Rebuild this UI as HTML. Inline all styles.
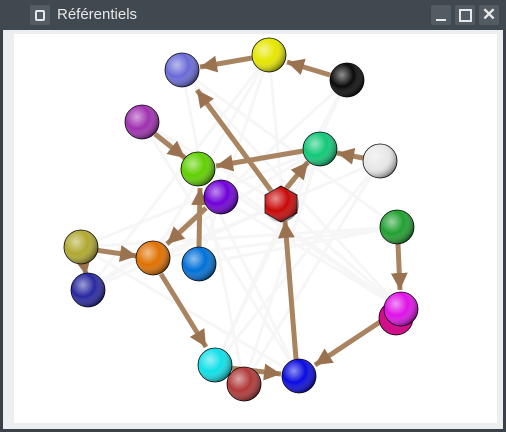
<!DOCTYPE html>
<html><head><meta charset="utf-8"><style>
html,body{margin:0;padding:0;width:506px;height:432px;overflow:hidden;background:#3a4148}
#t{position:absolute;left:0;top:0;width:506px;height:30px;background:#414950}
#title{position:absolute;left:57px;top:6px;font:15px "Liberation Sans",sans-serif;color:#e6e8ea}
.b{position:absolute;top:5px;width:20px;height:20px;background:#535b63;border-radius:2px}
#frame{position:absolute;left:3px;top:30px;width:500px;height:399px;background:#eceef0}
#in{position:absolute;left:14px;top:34px;width:483px;height:389px;background:#fff}
svg{position:absolute;left:0;top:0}
</style></head><body>
<div id="t"></div>
<div class="b" style="left:30px"><div style="position:absolute;left:5px;top:5px;width:6px;height:7px;border:2px solid #e6e8ea;border-radius:2px"></div></div>
<div id="title">Référentiels</div>
<div class="b" style="left:431px"><div style="position:absolute;left:5px;top:14px;width:10px;height:2px;background:#e6e8ea"></div></div>
<div class="b" style="left:455px"><div style="position:absolute;left:4px;top:4px;width:9px;height:9px;border:2px solid #e6e8ea"></div></div>
<div class="b" style="left:479px;color:#e6e8ea;font:bold 17px 'Liberation Sans',sans-serif;text-align:center;line-height:20px">✕</div>
<div id="frame"></div><div id="in"></div>
<svg width="506" height="432" viewBox="0 0 506 432">
<defs>
<marker id="a" viewBox="0 0 10 10" refX="10" refY="5" markerWidth="3.4" markerHeight="3.4" orient="auto"><path d="M0,0L10,5L0,10z" fill="#9a7250"/></marker>
<radialGradient id="g" cx="35%" cy="35%" r="70%"><stop offset="0" stop-color="#fff" stop-opacity=".55"/><stop offset=".5" stop-color="#fff" stop-opacity="0"/><stop offset="1" stop-color="#000" stop-opacity=".5"/></radialGradient>
</defs>
<g stroke="#e6e6e6" stroke-width="3" opacity=".35">
<path d="M182,70L280,204M269,55L199,264M347,80L153,258M320,149L88,290M380,161L215,365M397,227L81,247M401,309L142,122M299,376L198,169M244,384L320,149M221,198L401,309M182,70L244,384M269,55L299,376M347,80L215,365M380,161L153,258M142,122L299,376M81,247L320,149M88,290L269,55M397,227L199,264M401,309L182,70M244,384L380,161M215,365L347,80M153,258L397,227M281,204L88,290M281,204L401,309M281,204L142,122M198,169L401,309M221,198L88,290M299,376L81,247M269,55L153,258M182,70L397,227M347,80L281,204M320,149L215,365"/>
</g>
<g stroke="#a88460" stroke-width="5" fill="none" marker-end="url(#a)">
<line x1="252" y1="58" x2="200" y2="67"/>
<line x1="330" y1="75" x2="287" y2="62"/>
<line x1="363" y1="158" x2="337" y2="153"/>
<line x1="303" y1="151" x2="216" y2="166"/>
<line x1="155" y1="134" x2="185" y2="158"/>
<line x1="272" y1="192" x2="197" y2="90"/>
<line x1="285" y1="190" x2="308" y2="162"/>
<line x1="199" y1="247" x2="200" y2="188"/>
<line x1="206" y1="208" x2="167" y2="244"/>
<line x1="95" y1="250" x2="137" y2="256"/>
<line x1="161" y1="274" x2="206" y2="347"/>
<line x1="230" y1="368" x2="281" y2="374"/>
<line x1="296" y1="359" x2="285" y2="221"/>
<line x1="398" y1="244" x2="400" y2="290"/>
<line x1="386" y1="318" x2="315" y2="365"/>
<line x1="83" y1="260" x2="86" y2="275"/>
</g>
<g stroke="#000" stroke-width=".8">
<circle cx="182" cy="70" r="17" fill="#6a6ad8"/>
<circle cx="269" cy="55" r="17" fill="#e6e600"/>
<circle cx="347" cy="80" r="17" fill="#0a0a0a"/>
<circle cx="142" cy="122" r="17" fill="#a030b0"/>
<circle cx="320" cy="149" r="17" fill="#10c878"/>
<circle cx="380" cy="161" r="17" fill="#e8e8e8"/>
<circle cx="198" cy="169" r="17" fill="#60d000"/>
<circle cx="221" cy="197" r="17" fill="#7000d8"/>
<polygon points="281,186 297,195 297,213 281,222 265,213 265,195" fill="#c80808"/>
<circle cx="397" cy="227" r="17" fill="#20a030"/>
<circle cx="81" cy="247" r="17" fill="#b0a830"/>
<circle cx="88" cy="290" r="17" fill="#2828a0"/>
<circle cx="199" cy="264" r="17" fill="#0070d8"/>
<circle cx="153" cy="258" r="17" fill="#e07000"/>
<circle cx="396" cy="318" r="17" fill="#d0108a"/>
<circle cx="401" cy="309" r="17" fill="#e010e8"/>
<circle cx="244" cy="384" r="17" fill="#b03838"/>
<circle cx="215" cy="365" r="17" fill="#10e0e8"/>
<circle cx="299" cy="376" r="17" fill="#0a0ae0"/>
</g>
<g fill="url(#g)">
<circle cx="182" cy="70" r="17"/><circle cx="269" cy="55" r="17"/><circle cx="347" cy="80" r="17"/>
<circle cx="142" cy="122" r="17"/><circle cx="320" cy="149" r="17"/><circle cx="380" cy="161" r="17"/>
<circle cx="198" cy="169" r="17"/><circle cx="221" cy="197" r="17"/><circle cx="281" cy="204" r="18"/>
<circle cx="397" cy="227" r="17"/><circle cx="81" cy="247" r="17"/><circle cx="88" cy="290" r="17"/>
<circle cx="199" cy="264" r="17"/><circle cx="153" cy="258" r="17"/><circle cx="401" cy="309" r="17"/>
<circle cx="244" cy="384" r="17"/><circle cx="215" cy="365" r="17"/><circle cx="299" cy="376" r="17"/>
</g>
</svg>
</body></html>
